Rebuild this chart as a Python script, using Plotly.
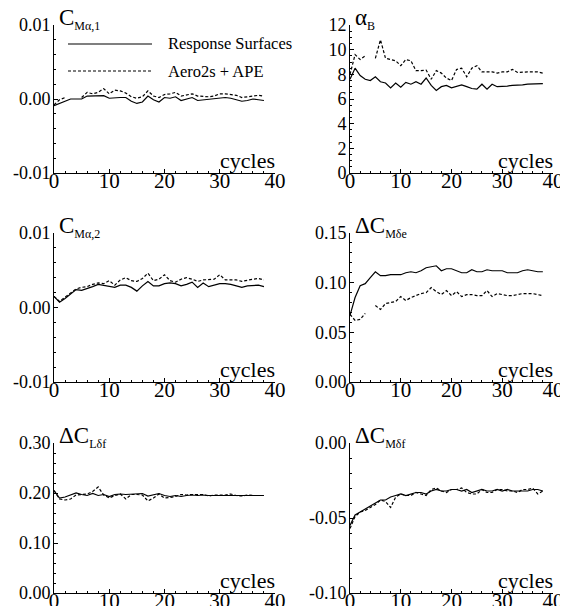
import plotly.graph_objects as go

cycles = list(range(39))

# Panel 1: C_M alpha,1
cma1_rs = [-0.0009, -0.0006, -0.0003, 0.0, 0.0, 0.0, 0.0004, 0.00045, 0.0005, 0.00045,
           0.0001, 0.0002, 0.0002, 0.0002, -0.0003, -0.0006, -0.0004, 0.0004, -0.0001, -0.0004,
           0.0002, 0.0001, 0.0003, -0.0002, 0.0, 0.0002, -0.0002, -0.0001, -0.0001, 0.0,
           0.0001, 0.0002, 0.0001, -0.0001, -0.0003, -0.0002, 0.0, -0.0001, -0.0002]
cma1_ap = [-0.0008, -0.0001, 0.0002, None, None, 0.0002, 0.0009, 0.0007, 0.0009, 0.0014,
           0.0007, 0.0012, 0.0011, 0.0008, 0.0003, 0.0001, 0.0003, 0.0011, 0.0004, 0.0002,
           0.0006, 0.0007, 0.0009, 0.0004, 0.0005, 0.0007, 0.0004, 0.0003, 0.0003, 0.0004,
           0.0007, 0.0007, 0.0006, 0.0005, 0.0002, 0.0003, 0.0005, 0.0005, 0.0004]

# Panel 2: alpha_B
alphab_rs = [7.6, 8.5, 7.9, 7.6, 7.5, 7.8, 7.4, 7.3, 6.9, 7.3,
             6.95, 7.35, 7.2, 7.4, 7.2, 7.7, 7.1, 6.7, 7.0, 7.1,
             6.9, 7.0, 7.15, 7.0, 6.85, 6.8, 7.2, 6.8, 7.2, 7.0,
             7.0, 7.05, 7.1, 7.1, 7.15, 7.2, 7.2, 7.2, 7.25]
alphab_ap = [8.0, 9.6, 9.2, 9.5, None, 9.3, 10.8, 9.3, 9.2, 9.1,
             8.7, 9.2, 9.1, 8.3, 8.3, 8.35, 7.6, 8.3, 8.1, 7.7,
             7.5, 8.4, 8.5, 7.8, 8.5, 8.7, 8.2, 8.2, 8.2, 8.1,
             8.2, 8.2, 8.4, 8.15, 8.2, 8.2, 8.2, 8.2, 8.1]

# Panel 3: C_M alpha,2
cma2_rs = [0.0015, 0.0007, 0.0012, 0.0018, 0.0024, 0.0023, 0.0025, 0.0028, 0.0031, 0.0030,
           0.0029, 0.0027, 0.0030, 0.0030, 0.0027, 0.0022, 0.0029, 0.0035, 0.0029, 0.0029,
           0.0032, 0.0033, 0.0032, 0.0029, 0.0031, 0.0034, 0.0027, 0.0033, 0.0028, 0.0030,
           0.0032, 0.0032, 0.0031, 0.0029, 0.0027, 0.0029, 0.0029, 0.0030, 0.0028]
cma2_ap = [0.0015, 0.0008, 0.0014, 0.0020, 0.0025, 0.0027, 0.0028, 0.0031, 0.0033, 0.0032,
           0.0036, 0.0030, 0.0037, 0.0040, 0.0036, 0.0035, 0.0039, 0.0046, 0.0036, 0.0038,
           0.0044, 0.0036, 0.0034, 0.0038, 0.0040, 0.0038, 0.0035, 0.0037, 0.0037, 0.0038,
           0.0044, 0.0037, 0.0037, 0.0037, 0.0035, 0.0036, 0.0038, 0.0039, 0.0037]

# Panel 4: delta C_M delta e
dcmde_rs = [0.067, 0.085, 0.097, 0.099, 0.105, 0.111, 0.107, 0.107, 0.108, 0.108,
            0.108, 0.110, 0.111, 0.110, 0.112, 0.115, 0.116, 0.117, 0.112, 0.114,
            0.114, 0.112, 0.110, 0.110, 0.113, 0.111, 0.111, 0.113, 0.112, 0.112,
            0.112, 0.110, 0.110, 0.110, 0.112, 0.113, 0.112, 0.111, 0.111]
dcmde_ap = [0.068, 0.062, 0.063, 0.069, None, 0.077, 0.073, 0.079, 0.080, 0.081,
            0.086, 0.082, 0.085, 0.087, 0.089, 0.090, 0.095, 0.091, 0.088, 0.092,
            0.087, 0.091, 0.086, 0.088, 0.088, 0.087, 0.087, 0.092, 0.086, 0.089,
            0.088, 0.087, 0.087, 0.088, 0.089, 0.089, 0.089, 0.088, 0.087]

# Panel 5: delta C_L delta f
dclf_rs = [0.205, 0.190, 0.192, 0.196, 0.200, 0.197, 0.195, 0.199, 0.195, 0.197,
           0.193, 0.197, 0.198, 0.197, 0.198, 0.199, 0.199, 0.194, 0.196, 0.199,
           0.195, 0.193, 0.195, 0.193, 0.195, 0.196, 0.195, 0.196, 0.195, 0.195,
           0.195, 0.196, 0.195, 0.195, 0.195, 0.195, 0.195, 0.195, 0.195]
dclf_ap = [0.205, 0.188, 0.186, 0.188, 0.196, 0.197, 0.198, 0.203, 0.212, 0.196,
           0.190, 0.195, 0.198, 0.188, 0.197, 0.197, 0.196, 0.184, 0.190, 0.198,
           0.190, 0.191, 0.193, 0.197, 0.196, 0.197, 0.197, 0.197, 0.194, 0.196,
           0.196, 0.196, 0.198, 0.195, 0.194, 0.196, 0.195, 0.195, 0.195]

# Panel 6: delta C_M delta f
dcmf_rs = [-0.055, -0.048, -0.046, -0.044, -0.042, -0.040, -0.038, -0.038, -0.036, -0.035,
           -0.034, -0.035, -0.034, -0.033, -0.033, -0.034, -0.032, -0.031, -0.032, -0.032,
           -0.031, -0.031, -0.032, -0.031, -0.033, -0.032, -0.031, -0.032, -0.032, -0.031,
           -0.032, -0.031, -0.032, -0.032, -0.032, -0.032, -0.031, -0.031, -0.032]
dcmf_ap = [-0.057, -0.049, -0.046, -0.045, -0.043, -0.041, -0.038, -0.039, -0.043, -0.036,
           -0.034, -0.035, -0.035, -0.033, -0.034, -0.035, -0.031, -0.030, -0.032, -0.033,
           -0.031, -0.031, -0.030, -0.033, -0.034, -0.034, -0.031, -0.033, -0.033, -0.031,
           -0.031, -0.032, -0.032, -0.033, -0.031, -0.031, -0.030, -0.034, -0.032]

legend_names = ["Response Surfaces", "Aero2s + APE"]
x_ticks = [0, 10, 20, 30, 40]
x_label = "cycles"


def sub_title(main, sub):
    return f"{main}<sub><span style='font-size:12px'>{sub}</span></sub>"


panels = [
    dict(rs=cma1_rs, ap=cma1_ap, title=sub_title("C", "Mα,1"), rng=[-0.01, 0.01],
         tv=[-0.01, 0.0, 0.01], tt=["-0.01", "0.00", "0.01"], minor=0.002),
    dict(rs=alphab_rs, ap=alphab_ap, title=sub_title("α", "B"), rng=[0, 12],
         tv=[0, 2, 4, 6, 8, 10, 12], tt=["0", "2", "4", "6", "8", "10", "12"], minor=0.5),
    dict(rs=cma2_rs, ap=cma2_ap, title=sub_title("C", "Mα,2"), rng=[-0.01, 0.01],
         tv=[-0.01, 0.0, 0.01], tt=["-0.01", "0.00", "0.01"], minor=0.002),
    dict(rs=dcmde_rs, ap=dcmde_ap, title=sub_title("ΔC", "Mδe"), rng=[0, 0.15],
         tv=[0, 0.05, 0.10, 0.15], tt=["0.00", "0.05", "0.10", "0.15"], minor=0.01),
    dict(rs=dclf_rs, ap=dclf_ap, title=sub_title("ΔC", "Lδf"), rng=[0, 0.30],
         tv=[0, 0.10, 0.20, 0.30], tt=["0.00", "0.10", "0.20", "0.30"], minor=0.02),
    dict(rs=dcmf_rs, ap=dcmf_ap, title=sub_title("ΔC", "Mδf"), rng=[-0.10, 0.0],
         tv=[-0.10, -0.05, 0.0], tt=["-0.10", "-0.05", "0.00"], minor=0.01),
]

# page has an 8px body margin; figure is sized to fit the 568x606 window
OFF = 8
W, H = 568 - OFF, 606 - OFF


def px(p):
    return (p - OFF) / W


def py(p):
    return 1 - (p - OFF) / H


xdoms = [[px(54), px(275)], [px(350), px(553)]]
ydoms = [[py(173), py(25)], [py(382), py(233)], [py(593), py(443)]]

FONT = "Liberation Serif"

fig = go.Figure()
layout = dict(template="none", width=W, height=H, margin=dict(l=0, r=0, t=0, b=0, pad=0),
              autosize=False,
              paper_bgcolor="white", plot_bgcolor="white", showlegend=False,
              font=dict(family=FONT, color="black"))
annotations = []
shapes = []

for i, p in enumerate(panels):
    r, c = divmod(i, 2)
    n = i + 1
    xa = "x" if n == 1 else f"x{n}"
    ya = "y" if n == 1 else f"y{n}"
    fig.add_trace(go.Scatter(x=cycles, y=p["rs"], mode="lines", xaxis=xa, yaxis=ya,
                             line=dict(color="black", width=1.2), name=legend_names[0],
                             connectgaps=False))
    fig.add_trace(go.Scatter(x=cycles, y=p["ap"], mode="lines", xaxis=xa, yaxis=ya,
                             line=dict(color="black", width=1.2, dash="3px,2px"),
                             name=legend_names[1], connectgaps=False))
    xkey = "xaxis" if n == 1 else f"xaxis{n}"
    ykey = "yaxis" if n == 1 else f"yaxis{n}"
    layout[xkey] = dict(domain=xdoms[c], anchor=ya, range=[0, 40], showgrid=False,
                        automargin=False,
                        zeroline=False, showline=True, linecolor="black", linewidth=1,
                        ticks="inside", ticklen=4, tickcolor="black", tickvals=x_ticks,
                        tickfont=dict(family=FONT, size=21, color="black"),
                        ticklabelstandoff=-11,
                        minor=dict(dtick=2, tick0=0, ticks="inside", ticklen=2,
                                   tickcolor="black", showgrid=False))
    layout[ykey] = dict(domain=ydoms[r], anchor=xa, range=p["rng"], showgrid=False,
                        automargin=False,
                        zeroline=False, showline=True, linecolor="black", linewidth=1,
                        ticks="inside", ticklen=4, tickcolor="black",
                        tickvals=p["tv"], ticktext=p["tt"],
                        tickfont=dict(family=FONT, size=18, color="black"),
                        ticklabelstandoff=-1,
                        minor=dict(dtick=p["minor"], tick0=p["rng"][0], ticks="inside",
                                   ticklen=2, tickcolor="black", showgrid=False))
    annotations.append(dict(text=p["title"], xref=f"{xa} domain", yref=f"{ya} domain",
                            x=0, y=1, xanchor="left", yanchor="bottom", xshift=3, yshift=-10,
                            showarrow=False, font=dict(family=FONT, size=23, color="black")))
    annotations.append(dict(text=x_label, xref=f"{xa} domain", yref=f"{ya} domain",
                            x=1, y=0, xanchor="right", yanchor="bottom", xshift=2, yshift=-2,
                            showarrow=False, font=dict(family=FONT, size=22, color="black")))

# legend drawn inside first panel
leg_y = [44, 71]
for k, name in enumerate(legend_names):
    yy = py(leg_y[k])
    shapes.append(dict(type="line", xref="paper", yref="paper", x0=px(68), x1=px(152),
                       y0=yy, y1=yy,
                       line=dict(color="black", width=1.2,
                                 dash="solid" if k == 0 else "3px,2px")))
    annotations.append(dict(text=name, xref="paper", yref="paper", x=px(166), y=yy,
                            xanchor="left", yanchor="middle", showarrow=False,
                            font=dict(family=FONT, size=16.5, color="black")))

layout["annotations"] = annotations
layout["shapes"] = shapes
fig.update_layout(**layout)
fig.write_html("out.html")
